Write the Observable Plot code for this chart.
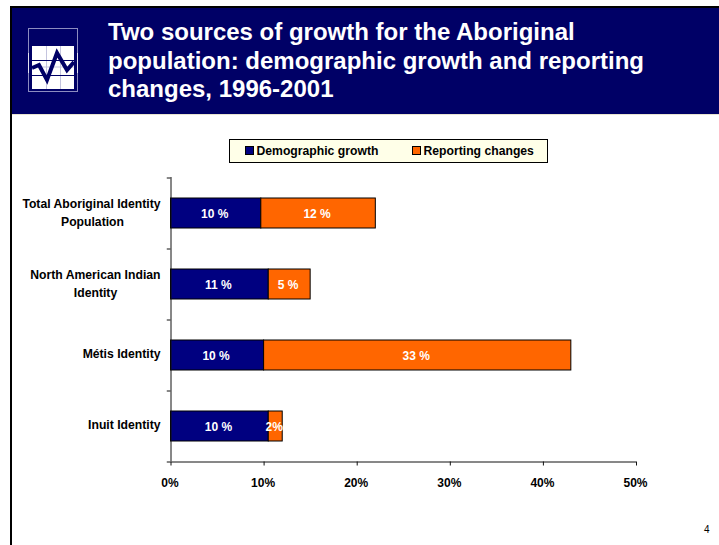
<!DOCTYPE html>
<html><head><meta charset="utf-8">
<script src="https://cdn.jsdelivr.net/npm/d3@7"></script>
<script src="https://cdn.jsdelivr.net/npm/@observablehq/plot@0.6"></script>
<style>
html,body{margin:0;padding:0;background:#fff;overflow:hidden}
#page{position:relative;width:719px;height:545px;font-family:"Liberation Sans",Arial,sans-serif}
#frameL{position:absolute;left:10px;top:6px;width:2px;height:539px;background:#000}
#frameT{position:absolute;left:10px;top:6px;width:709px;height:2px;background:#000}
#banner{position:absolute;left:12px;top:8px;width:707px;height:106px;background:#000066;border-bottom:1px solid #e8e4d0}
#title{position:absolute;left:108px;top:18px;width:590px;color:#fff;font-weight:bold;font-size:24px;line-height:28.5px;margin:0}
#logo{position:absolute;left:28px;top:28px}
#legend{position:absolute;left:229px;top:139px;width:317px;height:22px;border:1px solid #000;background:#ffffe8;font-size:12.2px;font-weight:bold;color:#000;box-sizing:content-box}
#legend span{position:absolute;top:4px;white-space:nowrap;line-height:14px}
#legend i{position:absolute;top:6px;width:7px;height:7px;border:.5px solid #000}
#pg{position:absolute;left:704px;top:524px;font-size:10px;color:#000}
#chart{position:absolute;left:0;top:0}
</style></head><body>
<div id="page">
<div id="chart"></div>
<div id="banner"></div>
<div id="frameL"></div><div id="frameT"></div>
<svg id="logo" width="50" height="65" viewBox="0 0 50 65">
<rect x=".5" y=".5" width="49" height="63" fill="none" stroke="#8c8cc0"/>
<rect x="4" y="18" width="42" height="43" fill="#fff"/>
<path d="M0 25V45M50 25V45" stroke="#fff" stroke-width="1.5" fill="none"/>
<path d="M18.5 18V61M32.5 18V61M4 39H46" stroke="#c4c4de" fill="none"/>
<path d="M4 40L11 37L19 52L29 25L39 42L46 34" stroke="#000066" stroke-width="4" fill="none"/>
<path d="M4 32.5H46M4 47.5H46" stroke="#000066" fill="none"/>
</svg>
<h1 id="title">Two sources of growth for the Aboriginal population: demographic growth and reporting changes, 1996-2001</h1>
<div id="legend">
<i style="left:15px;background:#000080"></i><span style="left:26.5px">Demographic growth</span>
<i style="left:182px;background:#ff6600"></i><span style="left:193.5px">Reporting changes</span>
</div>
<div id="pg">4</div>
</div>
<script>
const categories = ["Total Aboriginal Identity Population","North American Indian Identity","Métis Identity","Inuit Identity"];
const firstLines = ["Total Aboriginal Identity","North American Indian","Métis Identity","Inuit Identity"];
const secondLines = ["Population","Identity","",""];
const demographic = [9.7,10.5,10,10.5];
const reporting = [12.3,4.5,33,1.5];
const demographicLabels = ["10 %","11 %","10 %","10 %"];
const reportingLabels = ["12 %","5 %","33 %","2%"];
const xTicks = [0,10,20,30,40,50];

const navy="#000080", orange="#ff6600";
const rows = categories.flatMap((c,i)=>[
 {c,s:"Demographic growth",x0:0,x1:demographic[i],label:demographicLabels[i]},
 {c,s:"Reporting changes",x0:demographic[i],x1:demographic[i]+reporting[i],label:reportingLabels[i]}
]);
const lines = categories.map((c,i)=>({c,a:firstLines[i],b:secondLines[i]}));
const two = lines.filter(d=>d.b), one = lines.filter(d=>!d.b);
const ticks = xTicks.map(x=>({x,c:categories[3]}));
const step = 71;
const fontFamily='"Liberation Sans",Arial,sans-serif';
const ink="#111";
const labelSize=12.2;
const plot = Plot.plot({
 width:719,height:545,
 marginTop:177,marginBottom:84,marginLeft:170.5,marginRight:83,
 style:{background:"transparent",fontFamily,overflow:"visible"},
 x:{domain:[0,50],axis:null},
 y:{domain:categories,axis:null,paddingInner:0.58,paddingOuter:0.29},
 marks:[
  Plot.barX(rows,{x1:"x0",x2:"x1",y:"c",fill:d=>d.s==="Demographic growth"?navy:orange,stroke:"#000",strokeWidth:1}),
  Plot.ruleX([0],{stroke:ink}),
  Plot.ruleY([categories[3]],{y:d=>d,dy:step/2,x1:-0.4,x2:50,stroke:ink}),
  Plot.ruleY(categories,{y:d=>d,dy:-step/2,x1:-0.4,x2:0,stroke:ink}),
  Plot.tickX(ticks,{x:"x",y:"c",dy:step/2+2,stroke:ink,strokeWidth:1,insetTop:13,insetBottom:13}),
  Plot.text(rows,{x:d=>(d.x0+d.x1)/2,y:"c",text:"label",fill:"#fff",fontWeight:"bold",fontSize:12,dx:-1.5,dy:1}),
  Plot.text(one,{x:()=>0,y:"c",text:"a",textAnchor:"end",dx:-10.5,dy:-1,fontWeight:"bold",fontSize:labelSize,fill:"#000"}),
  Plot.text(two,{x:()=>0,y:"c",text:"a",textAnchor:"end",dx:-10.5,dy:-9,fontWeight:"bold",fontSize:labelSize,fill:"#000"}),
  Plot.text(two.slice(0,1),{x:()=>0,y:"c",text:"b",dx:-78.5,dy:9,fontWeight:"bold",fontSize:labelSize,fill:"#000"}),
  Plot.text(two.slice(1),{x:()=>0,y:"c",text:"b",dx:-75.5,dy:9,fontWeight:"bold",fontSize:labelSize,fill:"#000"}),
  Plot.text(ticks,{x:"x",y:"c",dx:-1,dy:56.5,text:d=>d.x+"%",fontWeight:"bold",fontSize:12,fill:"#000"})
 ]
});
document.getElementById("chart").append(plot);
</script>
</body></html>
